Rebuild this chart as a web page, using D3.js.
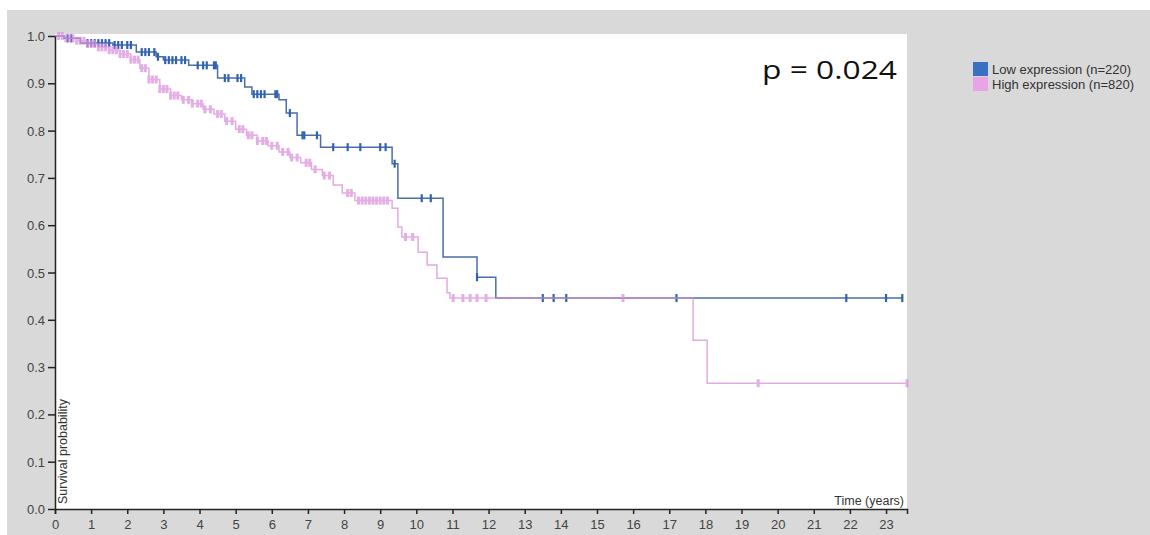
<!DOCTYPE html>
<html>
<head>
<meta charset="utf-8">
<script src="https://cdn.jsdelivr.net/npm/d3@7"></script>
<style>
  body { margin: 0; background: #fff; }
  svg { display: block; font-family: "Liberation Sans", Arial, sans-serif; }
</style>
</head>
<body>
<div id="chart"></div>
<script>
// survival steps: [time in years, survival after the drop]
const lowSteps = [
  [0, 1.0], [0.25, 0.995], [0.7, 0.985], [1.6, 0.981], [2.25, 0.966], [2.8, 0.956],
  [3.0, 0.949], [3.7, 0.938], [4.5, 0.911], [5.25, 0.892], [5.45, 0.877], [6.2, 0.865],
  [6.4, 0.837], [6.7, 0.79], [7.35, 0.765], [9.33, 0.73], [9.49, 0.657], [10.74, 0.533],
  [11.68, 0.49], [12.2, 0.446]
];
const highSteps = [
  [0, 1.0], [0.3, 0.995], [0.6, 0.99], [0.9, 0.983], [1.2, 0.976], [1.5, 0.97],
  [1.8, 0.962], [2.1, 0.95], [2.35, 0.932], [2.6, 0.908], [2.9, 0.888], [3.2, 0.874],
  [3.5, 0.865], [3.8, 0.857], [4.1, 0.845], [4.4, 0.835], [4.7, 0.82], [5.0, 0.803],
  [5.3, 0.79], [5.6, 0.778], [5.9, 0.768], [6.2, 0.755], [6.5, 0.743], [6.8, 0.732],
  [7.1, 0.718], [7.4, 0.705], [7.7, 0.685], [7.95, 0.668], [8.3, 0.652], [9.33, 0.636],
  [9.49, 0.596], [9.6, 0.575], [10.05, 0.543], [10.3, 0.516], [10.57, 0.488],
  [10.85, 0.457], [10.93, 0.446], [17.66, 0.357], [18.05, 0.266]
];
const lowEnd = 23.45, highEnd = 23.58;

// censored times (the little vertical marks)
const lowCensor = [
  0.35, 0.45, 0.9, 1.0, 1.1, 1.2, 1.3, 1.4, 1.5, 1.65, 1.75, 1.85, 2.0, 2.1, 2.4, 2.5,
  2.6, 2.75, 2.85, 3.05, 3.15, 3.25, 3.35, 3.5, 3.6, 3.95, 4.1, 4.2, 4.4, 4.45, 4.7,
  4.8, 5.05, 5.15, 5.5, 5.6, 5.7, 5.8, 6.1, 6.15, 6.5, 6.85, 6.9, 7.25, 7.7, 8.1, 8.45,
  9.0, 9.15, 9.4, 10.15, 10.4, 11.68, 13.5, 13.8, 14.15, 17.2, 21.9, 23.0, 23.45
];
const highCensor = [
  0.1, 0.2, 0.3, 0.4, 0.5, 0.6, 0.7, 0.8, 0.9, 1.0, 1.1, 1.2, 1.3, 1.4, 1.5, 1.6, 1.7,
  1.8, 1.9, 2.0, 2.1, 2.2, 2.3, 2.4, 2.5, 2.6, 2.7, 2.8, 2.9, 3.0, 3.1, 3.2, 3.3, 3.4,
  3.55, 3.7, 3.8, 3.95, 4.05, 4.15, 4.3, 4.5, 4.6, 4.75, 4.9, 5.1, 5.2, 5.35, 5.45, 5.6,
  5.75, 5.85, 6.0, 6.15, 6.3, 6.45, 6.55, 6.7, 6.95, 7.05, 7.2, 7.45, 7.6, 8.1, 8.2,
  8.4, 8.5, 8.6, 8.7, 8.8, 8.9, 9.0, 9.1, 9.2, 9.7, 9.9, 11.02, 11.29, 11.49, 11.68,
  11.93, 15.72, 19.46, 23.58
];

const groups = ["Low expression (n=220)", "High expression (n=820)"];
const yTicks = [0, 0.1, 0.2, 0.3, 0.4, 0.5, 0.6, 0.7, 0.8, 0.9, 1.0];
const xTicks = d3.range(0, 24);
const pValue = "p = 0.024";

const width = 1150, height = 535;
const margin = { top: 36, right: 243, bottom: 26, left: 55 };

const svg = d3.select("#chart").append("svg")
  .attr("width", width)
  .attr("height", height);

// grey panel and white plotting area
svg.append("rect").attr("x", 7).attr("y", 10).attr("width", width - 7).attr("height", height - 10)
  .attr("fill", "#d9d9d9");

const x = d3.scaleLinear().domain([0, highEnd]).range([margin.left, width - margin.right]);
const y = d3.scaleLinear().domain([0, 1]).range([height - margin.bottom, margin.top]);

svg.append("rect")
  .attr("x", x(0)).attr("y", margin.top - 2)
  .attr("width", x(highEnd) - x(0)).attr("height", y(0) - margin.top + 2)
  .attr("fill", "#fff");

function survAt(steps, t) {
  let s = steps[0][1];
  for (const d of steps) if (d[0] <= t) s = d[1];
  return s;
}

const line = d3.line()
  .x(d => x(d[0]))
  .y(d => y(d[1]))
  .curve(d3.curveStepAfter);

const series = [
  { steps: lowSteps, end: lowEnd, censor: lowCensor, line: "#4a6ea6", tick: "#2f62b0", tw: 2.2, op: 1 },
  { steps: highSteps, end: highEnd, censor: highCensor, line: "#d98fd9", tick: "#dc92dc", tw: 3, op: 0.75 }
];

for (const s of series) {
  const pts = s.steps.concat([[s.end, s.steps[s.steps.length - 1][1]]]);
  const g = svg.append("g").attr("opacity", s.op);
  g.append("path")
    .datum(pts)
    .attr("fill", "none")
    .attr("stroke", s.line)
    .attr("stroke-width", 1.5)
    .attr("d", line);
  g.selectAll("line.cens")
    .data(s.censor)
    .join("line")
    .attr("class", "cens")
    .attr("x1", d => x(d)).attr("x2", d => x(d))
    .attr("y1", d => y(survAt(s.steps, d)) - 4)
    .attr("y2", d => y(survAt(s.steps, d)) + 4)
    .attr("stroke", s.tick)
    .attr("stroke-width", s.tw);
}

// axes
const xAxis = svg.append("g")
  .attr("transform", `translate(0,${y(0)})`)
  .call(d3.axisBottom(x).tickValues(xTicks).tickSize(5).tickSizeOuter(5).tickFormat(d3.format("d")));
const yAxis = svg.append("g")
  .attr("transform", `translate(${x(0)},0)`)
  .call(d3.axisLeft(y).tickValues(yTicks).tickSize(7).tickSizeOuter(0).tickFormat(d3.format(".1f")));

for (const ax of [xAxis, yAxis]) {
  ax.select(".domain").attr("stroke", "#222").attr("stroke-width", 1.5);
  ax.selectAll(".tick line").attr("stroke", "#222").attr("stroke-width", 1.5);
  ax.selectAll(".tick text").attr("fill", "#444").attr("font-size", 13)
    .attr("font-family", "Liberation Sans, Arial, sans-serif");
}
xAxis.selectAll(".tick text").attr("dy", "0.9em");
yAxis.selectAll(".tick text").attr("x", -10).attr("dy", "0.35em");

svg.append("text")
  .attr("transform", `translate(${x(0) + 12},${y(0) - 5}) rotate(-90)`)
  .attr("font-size", 12.5)
  .attr("fill", "#333")
  .text("Survival probability");

svg.append("text")
  .attr("x", x(highEnd) - 3)
  .attr("y", y(0) - 4)
  .attr("text-anchor", "end")
  .attr("font-size", 12.5)
  .attr("fill", "#333")
  .text("Time (years)");

svg.append("text")
  .attr("x", 762)
  .attr("y", 79)
  .attr("font-family", "Open Sans, sans-serif")
  .attr("font-size", 25)
  .attr("fill", "#111")
  .attr("textLength", 135)
  .attr("lengthAdjust", "spacingAndGlyphs")
  .text(pValue);

// legend
const legendColors = ["#3a70c0", "#e8a4e4"];
const legend = svg.append("g").attr("transform", "translate(973,62)");
legend.selectAll("rect")
  .data(groups)
  .join("rect")
  .attr("x", 0)
  .attr("y", (d, i) => i * 15)
  .attr("width", 15)
  .attr("height", 14)
  .attr("fill", (d, i) => legendColors[i]);
legend.selectAll("text")
  .data(groups)
  .join("text")
  .attr("x", 19)
  .attr("y", (d, i) => i * 15 + 11.5)
  .attr("font-size", 13)
  .attr("fill", "#333")
  .text(d => d);
</script>
</body>
</html>
